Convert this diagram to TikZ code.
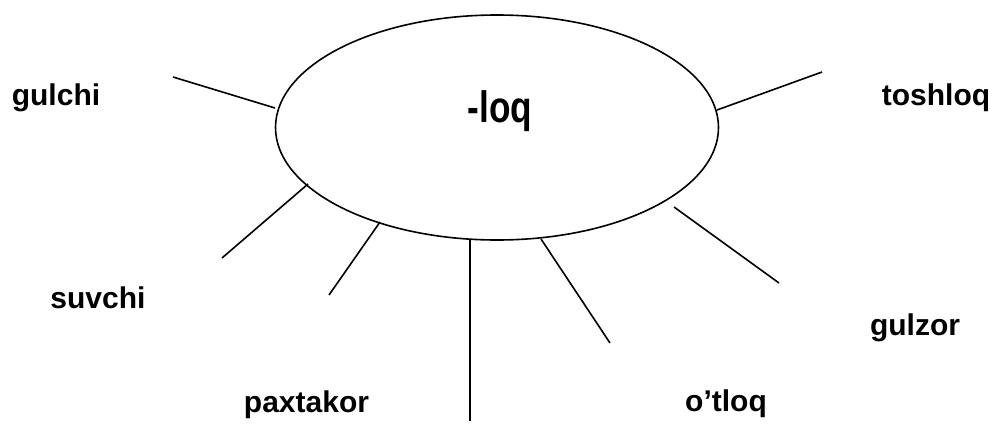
\documentclass[tikz,border=0pt]{standalone}
\usepackage{fontspec}
\setmainfont{Liberation Sans}
\usetikzlibrary{shapes.geometric}
\begin{document}
\begin{tikzpicture}[x=1pt,y=-1pt,
  lbl/.style={inner sep=0pt,anchor=base,font=\fontsize{30}{32}\selectfont\bfseries},
  spoke/.style={line width=1.6pt},
  hub/.style={draw,line width=1.6pt,ellipse,inner sep=0pt,minimum width=443pt,minimum height=225pt}]
\useasboundingbox (0,0) rectangle (993,423);
\node[hub] (e) at (497,127.5) {};
\node[inner sep=0pt,anchor=base,font=\fontsize{44}{46}\selectfont\bfseries] (core) at (500,122) {\scalebox{0.8}[1]{-loq}};
\node[lbl] (gulchi) at (56,105) {gulchi};
\node[lbl] (toshloq) at (936,105) {toshloq};
\node[lbl] (suvchi) at (98,308) {suvchi};
\node[lbl] (paxtakor) at (306.5,412) {paxtakor};
\node[lbl] (otloq) at (726,411) {o’tloq};
\node[lbl] (gulzor) at (915,335) {gulzor};
\coordinate (a1) at (173,77);  \coordinate (b1) at (275,108);
\coordinate (a2) at (822,72);  \coordinate (b2) at (717,110);
\coordinate (a3) at (222,258); \coordinate (b3) at (308,184);
\coordinate (a4) at (329,295); \coordinate (b4) at (380,222);
\coordinate (a5) at (470,421); \coordinate (b5) at (470,239);
\coordinate (a6) at (610,343); \coordinate (b6) at (541,239);
\coordinate (a7) at (779,283); \coordinate (b7) at (674,207);
\foreach \i in {1,...,7} {\draw[spoke] (a\i) -- (b\i);}
\end{tikzpicture}
\end{document}
